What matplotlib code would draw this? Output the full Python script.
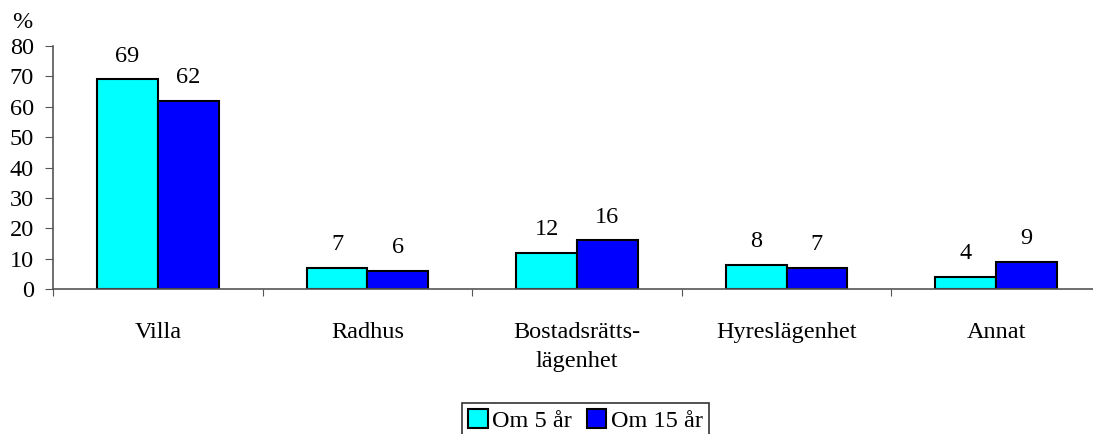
import matplotlib.pyplot as plt
import numpy as np
from matplotlib.patches import Patch

plt.rcParams['font.family'] = ['Liberation Serif', 'DejaVu Serif']

categories = ['Villa', 'Radhus', 'Bostadsrätts-\nlägenhet', 'Hyreslägenhet', 'Annat']
om5 = [69, 7, 12, 8, 4]
om15 = [62, 6, 16, 7, 9]
series_names = ['Om 5 år', 'Om 15 år']
colors = ['#00FFFF', '#0000FF']

fs = 17.5
fig = plt.figure(figsize=(10.93, 4.34), dpi=100)
ax = fig.add_axes([53 / 1093, 1 - 289 / 434, (1101 - 53) / 1093, (289 - 46) / 434])

x = np.arange(len(categories))
w = 0.29
for vals, off, c in [(om5, -w / 2, colors[0]), (om15, w / 2, colors[1])]:
    bars = ax.bar(x + off, vals, width=w, color=c, edgecolor='black', linewidth=1.5, zorder=2)
    for b, v in zip(bars, vals):
        ax.annotate(str(v), (b.get_x() + b.get_width() / 2, v), xytext=(0, 9),
                    textcoords='offset points', ha='center', va='bottom', fontsize=fs)

ax.set_xlim(-0.5, len(categories) - 0.5)
ax.set_ylim(0, 80)
ax.set_yticks(range(0, 81, 10))
ax.set_xticks(np.arange(len(categories) + 1) - 0.5)
ax.set_xticklabels([])
ax.set_xticks(x, minor=True)
ax.set_xticklabels(categories, minor=True, fontsize=fs, linespacing=1.5)
ax.tick_params(axis='x', which='minor', length=0, pad=24)
ax.tick_params(axis='x', which='major', length=5, direction='out', color='#555555')
ax.tick_params(axis='y', length=5.8, direction='out', labelsize=fs, pad=8, color='#555555')

for s in ['top', 'right']:
    ax.spines[s].set_visible(False)
for s in ['left', 'bottom']:
    ax.spines[s].set_color('#555555')
    ax.spines[s].set_linewidth(1.2)

fig.text(22 / 1093, 1 - 22 / 434, '%', fontsize=fs, ha='center', va='center')

handles = [Patch(facecolor=c, edgecolor='black', linewidth=1.5) for c in colors]
leg = fig.legend(handles, series_names, loc='upper left', bbox_to_anchor=(462 / 1093, 1 - 403 / 434),
                 ncol=2, fontsize=fs, frameon=True, fancybox=False, handlelength=0.8, handleheight=0.8,
                 handletextpad=0.2, columnspacing=0.6, borderpad=0.25, borderaxespad=0)
leg.get_frame().set_edgecolor('black')
leg.get_frame().set_linewidth(1.2)

fig.savefig('out.png', dpi=100)
